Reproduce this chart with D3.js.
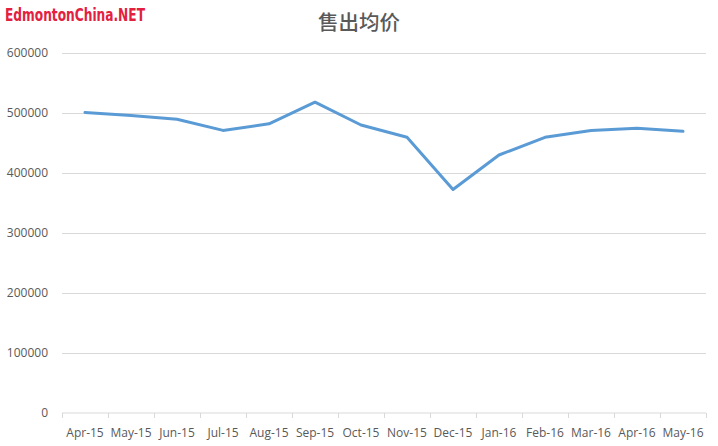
<!DOCTYPE html>
<html><head><meta charset="utf-8">
<script src="https://cdn.jsdelivr.net/npm/d3@7"></script>
<style>body{margin:0;background:#fff;}svg{display:block;}</style>
</head><body>
<script>
const categories = ["Apr-15","May-15","Jun-15","Jul-15","Aug-15","Sep-15","Oct-15","Nov-15","Dec-15","Jan-16","Feb-16","Mar-16","Apr-16","May-16"];
const values = [501000,496000,489500,471000,482000,518000,480000,459500,372500,430000,459500,471000,474500,469500];
const yTicks = [0,100000,200000,300000,400000,500000,600000];
const title = "售出均价";
const logo = "EdmontonChina.NET";

const W=718,H=446;
const svg=d3.select("body").append("svg").attr("width",W).attr("height",H);
const x=d3.scaleBand().domain(categories).range([62,706]);
const y=d3.scaleLinear().domain([0,600000]).range([413,53]);
const font="'Open Sans', 'Liberation Sans', sans-serif";

// gridlines
svg.append("g").selectAll("line").data(yTicks.filter(d=>d>0)).join("line")
 .attr("x1",62).attr("x2",706).attr("y1",d=>y(d)).attr("y2",d=>y(d))
 .attr("stroke","#d9d9d9").attr("stroke-width",1).attr("shape-rendering","crispEdges");

// y labels
svg.append("g").selectAll("text").data(yTicks).join("text")
 .attr("x",48).attr("y",d=>y(d)+4).attr("text-anchor","end")
 .attr("font-family",font).attr("font-size",12).attr("fill","#595959").text(d=>d);

// x axis
const xa=d3.axisBottom(x).tickSize(5).tickSizeOuter(0);
const gx=svg.append("g").attr("transform","translate(0,413)").call(xa);
gx.select(".domain").attr("stroke","#d9d9d9").attr("d","M62,0H706");
gx.selectAll(".tick line").remove();
gx.selectAll(".tick text").attr("font-family",font).attr("font-size",12).attr("fill","#595959").attr("dy",0).attr("y",24);
// category boundary ticks
svg.append("g").selectAll("line").data(d3.range(categories.length+1)).join("line")
 .attr("x1",i=>62+i*x.step()).attr("x2",i=>62+i*x.step()).attr("y1",413).attr("y2",418)
 .attr("stroke","#d9d9d9").attr("shape-rendering","crispEdges");

// line
const line=d3.line().x((d,i)=>x(categories[i])+x.bandwidth()/2).y(d=>y(d));
svg.append("path").datum(values).attr("d",line).attr("fill","none")
 .attr("stroke","#5b9bd5").attr("stroke-width",3).attr("stroke-linejoin","round").attr("stroke-linecap","round");

// title
svg.append("text").attr("x",359).attr("y",30).attr("text-anchor","middle")
 .attr("font-family","'Noto Sans CJK SC', sans-serif").attr("font-size",20.5).attr("font-weight",500)
 .attr("fill","#595959").text(title);

// logo
svg.append("text").attr("x",5).attr("y",21).attr("font-family","'Liberation Sans Narrow','DejaVu Sans Condensed',sans-serif")
 .attr("font-size",17).attr("font-weight","bold").attr("fill","#e3203f")
 .attr("textLength",140).attr("lengthAdjust","spacingAndGlyphs").text(logo);
</script>
</body></html>
